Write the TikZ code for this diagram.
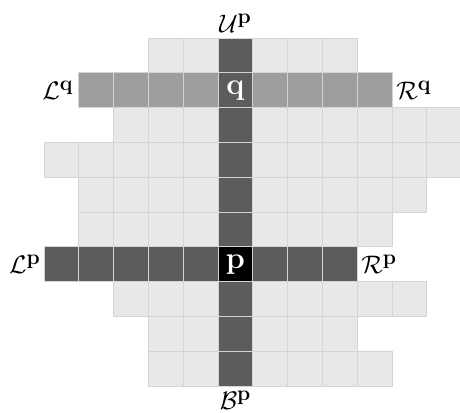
\documentclass[tikz,border=0pt]{standalone}
\usepackage{amsmath,amssymb}
\usepackage{bm}
\usepackage{tikz}
\usetikzlibrary{positioning}
\definecolor{celllight}{RGB}{232,232,232}
\definecolor{cellline}{RGB}{212,212,212}
\definecolor{rowq}{RGB}{158,158,161}
\definecolor{coldark}{RGB}{91,92,94}
\newcommand{\bsup}[1]{^{\scalebox{1.2}{$\scriptstyle\mathbf{#1}$}}}

\begin{document}
\begin{tikzpicture}[
    cell/.style={rectangle, draw=cellline, fill=celllight, line width=0.6pt,
                 minimum size=1cm, inner sep=0pt, outer sep=0pt},
    qcell/.style={cell, fill=rowq},
    dcell/.style={cell, fill=coldark},
    mark cell/.style={dcell, font=\Huge\bfseries, text=white},
    lbl/.style={font=\huge, inner sep=1pt}]
    \clip (-1.264,1.092) rectangle (11.954,-10.747);
    % light rows: row/first/last column
    \foreach \r/\a/\b in {0/3/8, 2/2/11, 3/0/11, 4/1/10, 5/1/9, 7/2/10, 8/3/8, 9/3/9}
      \foreach \c in {\a,...,\b}
        \node[cell] (c-\r-\c) at (\c+0.5,-\r-0.5) {};
    % row of q and row of p
    \foreach \c in {1,...,9}
      \node[qcell] (c-1-\c) at (\c+0.5,-1.5) {};
    \foreach \c in {0,...,8}
      \node[dcell] (c-6-\c) at (\c+0.5,-6.5) {};
    % column through q and p
    \foreach \r in {0,2,3,4,5,7,8,9}
      \node[dcell] (c-\r-5) at (5.5,-\r-0.5) {};
    \node[mark cell] (q) at (5.5,-1.5) {q};
    \node[mark cell, fill=black] (p) at (5.5,-6.5) {p};
    % labels
    \node[lbl, above=0.12cm of c-0-5] (Up) {$\mathcal{U}\bsup{p}$};
    \node[lbl, below=0.1cm of c-9-5] (Bp) {$\mathcal{B}\bsup{p}$};
    \node[lbl, left=0.12cm of c-1-1] (Lq) {$\mathcal{L}\bsup{q}$};
    \node[lbl, right=0.08cm of c-1-9] (Rq) {$\mathcal{R}\bsup{q}$};
    \node[lbl, left=0.06cm of c-6-0] (Lp) {$\mathcal{L}\bsup{p}$};
    \node[lbl, right=0.08cm of c-6-8] (Rp) {$\mathcal{R}\bsup{p}$};
\end{tikzpicture}
\end{document}
